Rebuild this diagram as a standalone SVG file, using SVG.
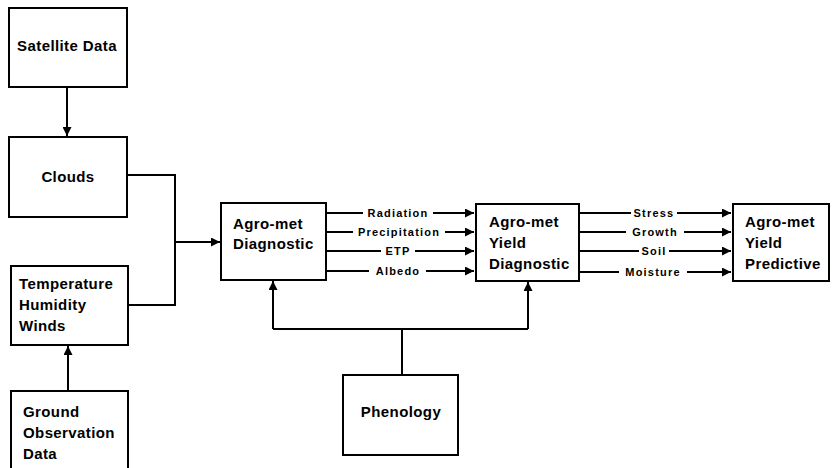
<svg xmlns="http://www.w3.org/2000/svg" width="833" height="468" viewBox="0 0 833 468">
<style>
.box{fill:#fff;stroke:#000;stroke-width:2}
.t{font-family:"Liberation Sans",Arial,sans-serif;font-weight:bold;font-size:15px;letter-spacing:0.4px;fill:#000}
.l{font-family:"Liberation Sans",Arial,sans-serif;font-weight:bold;font-size:11px;letter-spacing:1.2px;fill:#000}
.c{fill:none;stroke:#000;stroke-width:2}
.bg{fill:#fff}
</style>
<defs>
<marker id="a" viewBox="0 0 10 10" refX="10" refY="5" markerWidth="4.5" markerHeight="4.5" orient="auto" markerUnits="strokeWidth">
<path d="M0,0 L10,5 L0,10 z" fill="#000"/>
</marker>
</defs>
<rect width="833" height="468" fill="#fff"/>
<g id="connectors">
<path class="c" d="M67,87 V136" marker-end="url(#a)"/>
<path class="c" d="M127,175 H175 V305 H128"/>
<path class="c" d="M175,242 H220" marker-end="url(#a)"/>
<path class="c" d="M68,391 V346" marker-end="url(#a)"/>
<path class="c" d="M402,375 V329"/>
<path class="c" d="M273,329 H528"/>
<path class="c" d="M273,329 V281" marker-end="url(#a)"/>
<path class="c" d="M528,329 V282" marker-end="url(#a)"/>
<path class="c" d="M326,213 H474" marker-end="url(#a)"/>
<path class="c" d="M326,232 H474" marker-end="url(#a)"/>
<path class="c" d="M326,251 H474" marker-end="url(#a)"/>
<path class="c" d="M326,271 H474" marker-end="url(#a)"/>
<path class="c" d="M579,213 H731" marker-end="url(#a)"/>
<path class="c" d="M579,232 H731" marker-end="url(#a)"/>
<path class="c" d="M579,251 H731" marker-end="url(#a)"/>
<path class="c" d="M579,272 H731" marker-end="url(#a)"/>
<rect class="bg" x="363" y="206" width="70" height="14"/>
<rect class="bg" x="353" y="225" width="92" height="14"/>
<rect class="bg" x="381" y="244" width="34" height="14"/>
<rect class="bg" x="369" y="264" width="57" height="14"/>
<rect class="bg" x="631" y="206" width="46" height="14"/>
<rect class="bg" x="626" y="225" width="58" height="14"/>
<rect class="bg" x="639" y="244" width="30" height="14"/>
<rect class="bg" x="619" y="265" width="68" height="14"/>
<text class="l" x="398" y="217" text-anchor="middle">Radiation</text>
<text class="l" x="399" y="236" text-anchor="middle">Precipitation</text>
<text class="l" x="398" y="255" text-anchor="middle">ETP</text>
<text class="l" x="398" y="275" text-anchor="middle">Albedo</text>
<text class="l" x="654" y="217" text-anchor="middle">Stress</text>
<text class="l" x="655" y="236" text-anchor="middle">Growth</text>
<text class="l" x="654" y="255" text-anchor="middle">Soil</text>
<text class="l" x="653" y="276" text-anchor="middle">Moisture</text>
</g>
<g id="satellite">
<rect class="box" x="9" y="8" width="118" height="79"/>
<text class="t" x="67" y="51" text-anchor="middle">Satellite Data</text>
</g>
<g id="clouds">
<rect class="box" x="9" y="137" width="118" height="80"/>
<text class="t" x="68" y="182" text-anchor="middle">Clouds</text>
</g>
<g id="temperature">
<rect class="box" x="11" y="266" width="117" height="79"/>
<text class="t" x="19" y="289">Temperature</text>
<text class="t" x="19" y="310">Humidity</text>
<text class="t" x="19" y="331">Winds</text>
</g>
<g id="ground">
<rect class="box" x="11" y="391" width="117" height="80"/>
<text class="t" x="23" y="417">Ground</text>
<text class="t" x="23" y="438">Observation</text>
<text class="t" x="23" y="459">Data</text>
</g>
<g id="diagnostic">
<rect class="box" x="221" y="203" width="105" height="77"/>
<text class="t" x="233" y="229">Agro-met</text>
<text class="t" x="233" y="249">Diagnostic</text>
</g>
<g id="yield-diagnostic">
<rect class="box" x="476" y="204" width="103" height="77"/>
<text class="t" x="489" y="227">Agro-met</text>
<text class="t" x="489" y="248">Yield</text>
<text class="t" x="489" y="269">Diagnostic</text>
</g>
<g id="predictive">
<rect class="box" x="733" y="204" width="96" height="77"/>
<text class="t" x="745" y="227">Agro-met</text>
<text class="t" x="745" y="248">Yield</text>
<text class="t" x="745" y="269">Predictive</text>
</g>
<g id="phenology">
<rect class="box" x="343" y="375" width="115" height="80"/>
<text class="t" x="401" y="417" text-anchor="middle">Phenology</text>
</g>
</svg>
